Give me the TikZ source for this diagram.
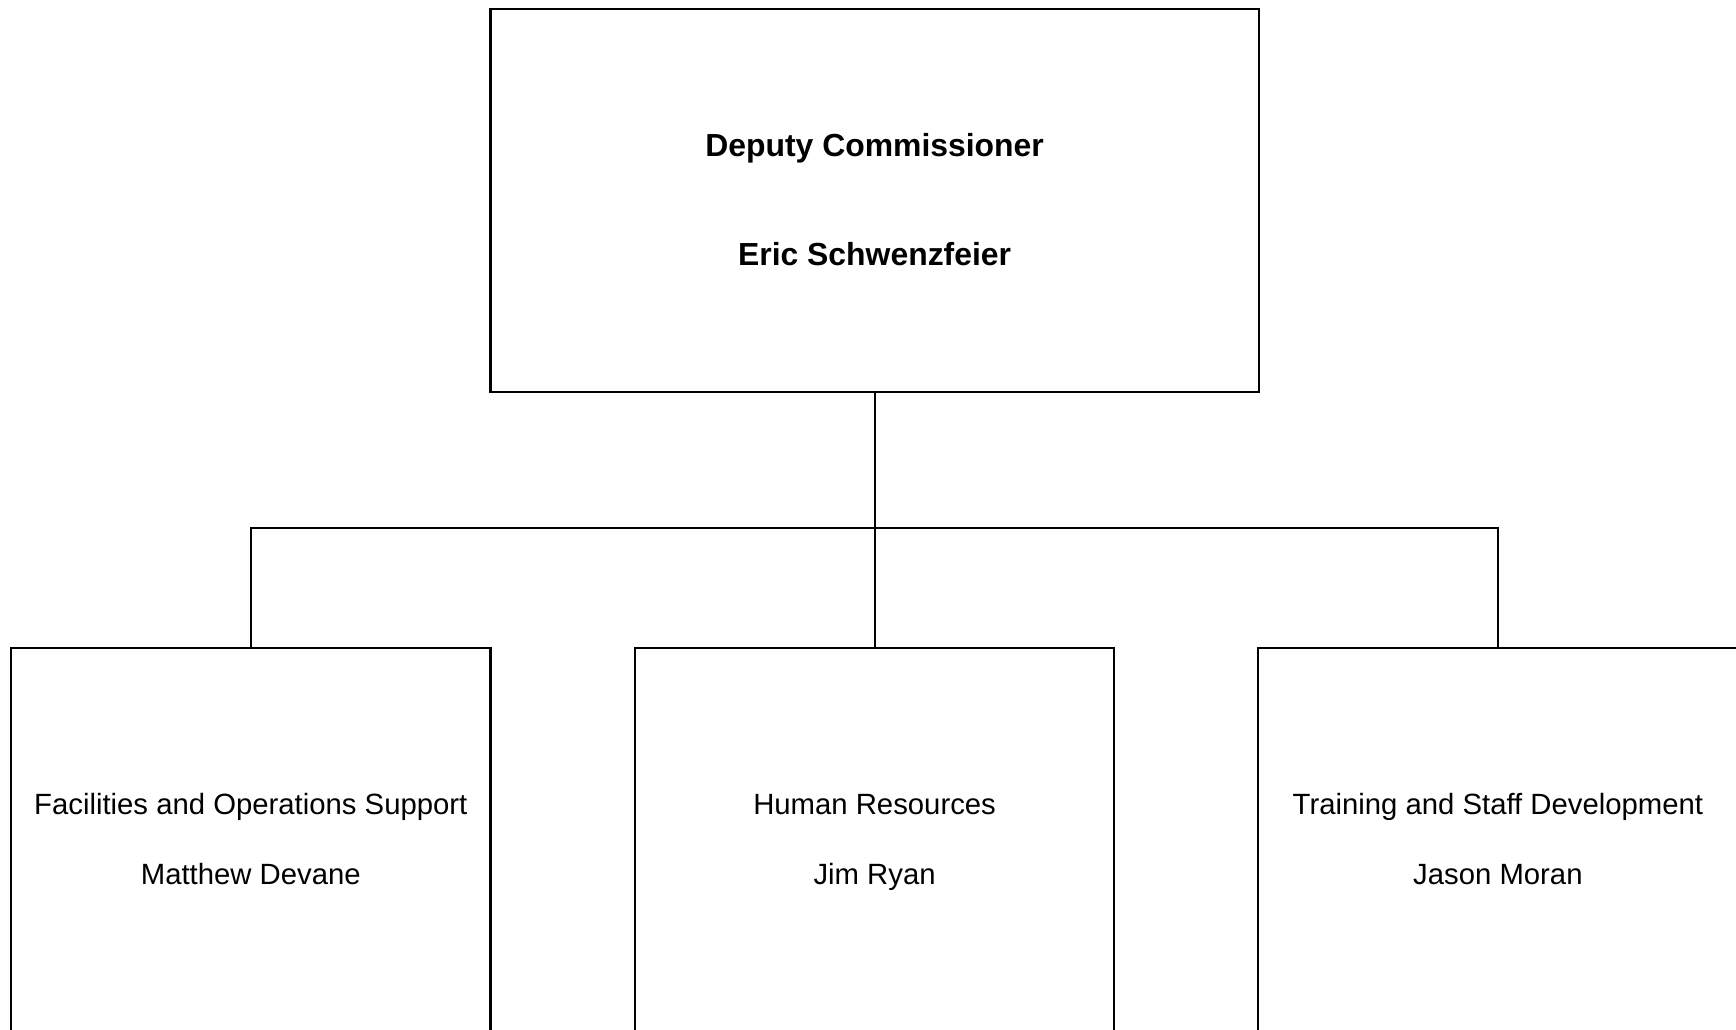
\documentclass[tikz,border=0pt]{standalone}
\usepackage{fontspec}
\setmainfont{Liberation Sans}
\begin{document}
\begin{tikzpicture}[x=1pt,y=-1pt,
  box/.style={draw=black,line width=2.2pt,fill=white,inner sep=0pt,rectangle},
  conn/.style={draw=black,line width=2.2pt},
  boldtxt/.style={anchor=base,inner sep=0pt,font=\fontsize{31.9}{38}\selectfont\bfseries},
  regtxt/.style={anchor=base,inner sep=0pt,font=\fontsize{29.3}{35}\selectfont}]
\useasboundingbox (0,0) rectangle (1736,1029);
\clip (0,0) rectangle (1736,1029);
\fill[white] (0,0) rectangle (1736,1029);
% boxes
\node[box,minimum width=768.3pt,minimum height=383pt] (top) at (874.6,200.4) {};
\node[box,minimum width=479.4pt,minimum height=500pt] (c1) at (250.8,897.7) {};
\node[box,minimum width=479.4pt,minimum height=500pt] (c2) at (874.6,897.7) {};
\node[box,minimum width=479.4pt,minimum height=500pt] (c3) at (1497.9,897.7) {};
% connectors
\coordinate (bar) at (874.6,528.1);
\draw[conn] (top.south) -- (bar);
\draw[conn] (bar) -| (c1.north);
\draw[conn] (bar) -| (c3.north);
\draw[conn] (bar) -- (c2.north);
% texts
\node[boldtxt] (t1) at (874.6,156) {Deputy Commissioner};
\node[boldtxt] (t2) at (874.6,265.7) {Eric Schwenzfeier};
\node[regtxt] (a1) at (250.8,814.8) {Facilities and Operations Support};
\node[regtxt] (a2) at (250.8,884.6) {Matthew Devane};
\node[regtxt] (b1) at (874.6,814.8) {Human Resources};
\node[regtxt] (b2) at (874.6,884.6) {Jim Ryan};
\node[regtxt] (d1) at (1497.9,814.8) {Training and Staff Development};
\node[regtxt] (d2) at (1497.9,884.6) {Jason Moran};
\end{tikzpicture}
\end{document}
